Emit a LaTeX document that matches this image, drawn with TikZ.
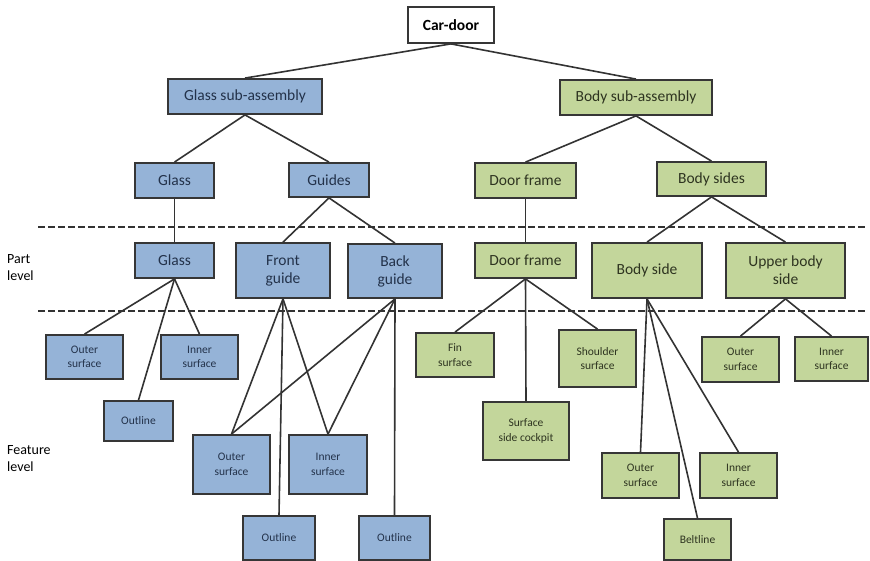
\documentclass[tikz,border=0pt]{standalone}
\usepackage{fontspec}
\setmainfont{Carlito}
\usetikzlibrary{backgrounds}
\definecolor{boxline}{HTML}{363636}
\definecolor{wireline}{HTML}{333333}
\definecolor{bluefill}{HTML}{95B3D7}
\definecolor{greenfill}{HTML}{C3D69B}
\definecolor{bluetext}{HTML}{23324A}
\definecolor{greentext}{HTML}{2E3420}
\tikzset{
  x=1pt, y=-1pt,
  basebox/.style={draw=boxline, line width=1.8pt, inner sep=0pt, align=center},
  topbox/.style={basebox, fill=white, text=black, font=\fontsize{15.5}{18}\selectfont\bfseries},
  bluebox/.style={basebox, fill=bluefill, text=bluetext, font=\fontsize{15.5}{18}\selectfont},
  greenbox/.style={basebox, fill=greenfill, text=greentext, font=\fontsize{15.5}{18}\selectfont},
  bluefeat/.style={bluebox, font=\fontsize{11.5}{14.5}\selectfont},
  greenfeat/.style={greenbox, font=\fontsize{11.5}{14.5}\selectfont},
  wire/.style={draw=wireline, line width=1.6pt},
  levelrule/.style={draw=wireline, line width=1.7pt, dash pattern=on 7pt off 3pt},
  levellabel/.style={align=left, anchor=west, inner sep=0pt, text=black, font=\fontsize{14}{17}\selectfont},
}
\newcommand{\boxat}[6]{\node[#1, minimum width=#4, minimum height=#5] (#2) at #3 {#6};}
\begin{document}
\begin{tikzpicture}
\useasboundingbox (0,0) rectangle (870,561);

% level rules and level labels
\draw[levelrule] (38,227) -- (868,227);
\draw[levelrule] (38,311) -- (868,311);
\node[levellabel] (partlbl) at (7,268) {Part\\level};
\node[levellabel] (featlbl) at (7,459) {Feature\\level};

% root and sub-assemblies
\boxat{topbox}{car}{(451,25)}{86pt}{36pt}{Car-door}
\boxat{bluebox}{gsa}{(245,96.5)}{154pt}{35pt}{Glass sub-assembly}
\boxat{greenbox}{bsa}{(636,97.5)}{152pt}{35pt}{Body sub-assembly}

% components
\boxat{bluebox}{glassc}{(174.5,180.5)}{79pt}{35pt}{Glass}
\boxat{bluebox}{guides}{(329,180)}{80pt}{34pt}{Guides}
\boxat{greenbox}{doorc}{(525.5,180.5)}{101pt}{35pt}{Door frame}
\boxat{greenbox}{bsides}{(711.5,179)}{109pt}{34pt}{Body sides}

% parts
\boxat{bluebox}{glassp}{(174.5,260.5)}{79pt}{35pt}{Glass}
\boxat{bluebox}{front}{(283,270.5)}{94pt}{55pt}{Front\\guide}
\boxat{bluebox}{back}{(395,271)}{94pt}{54pt}{Back\\guide}
\boxat{greenbox}{doorp}{(525.5,260.5)}{101pt}{35pt}{Door frame}
\boxat{greenbox}{bside}{(647,270.5)}{110pt}{55pt}{Body side}
\boxat{greenbox}{upper}{(785.5,270.5)}{119pt}{55pt}{Upper body\\side}

% features of the glass
\boxat{bluefeat}{gouter}{(84.5,357)}{77pt}{44pt}{Outer\\surface}
\boxat{bluefeat}{ginner}{(199.5,357)}{77pt}{44pt}{Inner\\surface}
\boxat{bluefeat}{goutline}{(138.5,421)}{69pt}{40pt}{Outline}

% features of the guides
\boxat{bluefeat}{fouter}{(231.5,464.5)}{77pt}{59pt}{Outer\\surface}
\boxat{bluefeat}{finner}{(328,464.5)}{78pt}{59pt}{Inner\\surface}
\boxat{bluefeat}{foutline}{(279,538)}{72pt}{44pt}{Outline}
\boxat{bluefeat}{boutline}{(394.5,538)}{71pt}{44pt}{Outline}

% features of the door frame
\boxat{greenfeat}{fin}{(455,355)}{78pt}{44pt}{Fin\\surface}
\boxat{greenfeat}{shoulder}{(597.5,358.5)}{77pt}{57pt}{Shoulder\\surface}
\boxat{greenfeat}{cockpit}{(526,431)}{86pt}{58pt}{Surface\\side cockpit}

% features of the body side
\boxat{greenfeat}{bouter}{(640.5,475.5)}{77pt}{45pt}{Outer\\surface}
\boxat{greenfeat}{binner}{(738.5,475.5)}{77pt}{45pt}{Inner\\surface}
\boxat{greenfeat}{belt}{(697.5,539.5)}{67pt}{41pt}{Beltline}

% features of the upper body side
\boxat{greenfeat}{uouter}{(740.5,359.5)}{77pt}{45pt}{Outer\\surface}
\boxat{greenfeat}{uinner}{(831.5,359)}{73pt}{44pt}{Inner\\surface}

% tree connectors
\begin{scope}[on background layer]
  \draw[wire] (car.south) -- (gsa.north);
  \draw[wire] (car.south) -- (bsa.north);
  \draw[wire] (gsa.south) -- (glassc.north);
  \draw[wire] (gsa.south) -- (guides.north);
  \draw[wire] (bsa.south) -- (doorc.north);
  \draw[wire] (bsa.south) -- (bsides.north);
  \draw[wire] (glassc.south) -- (glassp.north);
  \draw[wire] (guides.south) -- (front.north);
  \draw[wire] (guides.south) -- (back.north);
  \draw[wire] (doorc.south) -- (doorp.north);
  \draw[wire] (bsides.south) -- (bside.north);
  \draw[wire] (bsides.south) -- (upper.north);
  \draw[wire] (glassp.south) -- (gouter.north);
  \draw[wire] (glassp.south) -- (goutline.north);
  \draw[wire] (glassp.south) -- (ginner.north);
  \draw[wire] (front.south) -- (fouter.north);
  \draw[wire] (front.south) -- (foutline.north);
  \draw[wire] (front.south) -- (finner.north);
  \draw[wire] (back.south) -- (fouter.north);
  \draw[wire] (back.south) -- (finner.north);
  \draw[wire] (back.south) -- (boutline.north);
  \draw[wire] (doorp.south) -- (fin.north);
  \draw[wire] (doorp.south) -- (cockpit.north);
  \draw[wire] (doorp.south) -- (shoulder.north);
  \draw[wire] (bside.south) -- (bouter.north);
  \draw[wire] (bside.south) -- (belt.north);
  \draw[wire] (bside.south) -- (binner.north);
  \draw[wire] (upper.south) -- (uouter.north);
  \draw[wire] (upper.south) -- (uinner.north);
\end{scope}
\end{tikzpicture}
\end{document}
